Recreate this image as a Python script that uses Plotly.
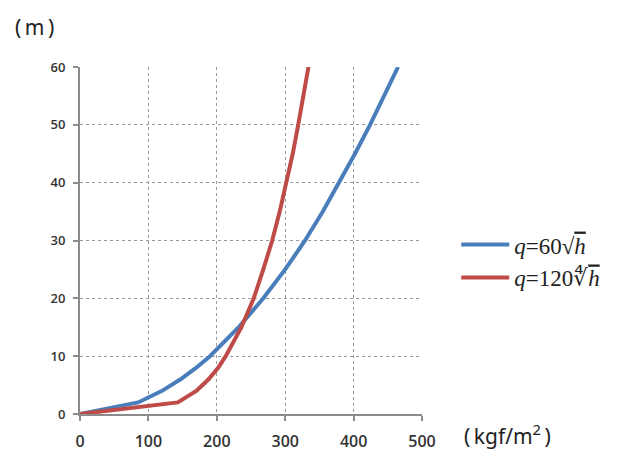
import plotly.graph_objects as go

# Load q (kgf/m2) at height h (m)
heights = [0, 2, 4, 6, 8, 10, 15, 20, 25, 30, 35, 40, 45, 50, 55, 60]
q_sqrt = [0, 85, 120, 147, 170, 190, 232, 268, 300, 329, 355, 379, 402, 424, 445, 465]
q_root4 = [0, 143, 170, 188, 202, 213, 236, 254, 268, 281, 292, 302, 311, 319, 327, 334]

x_ticks = [0, 100, 200, 300, 400, 500]
y_ticks = [0, 10, 20, 30, 40, 50, 60]

name_blue = "<i>q</i>=60√<span style='text-decoration:overline'><i>h</i></span>"
name_red = "<i>q</i>=120∜<span style='text-decoration:overline'><i>h</i></span>"

fig = go.Figure()
fig.add_trace(go.Scatter(x=q_sqrt, y=heights, mode="lines", name=name_blue,
                         line=dict(color="#4a7ebb", width=4)))
fig.add_trace(go.Scatter(x=q_root4, y=heights, mode="lines", name=name_red,
                         line=dict(color="#be4b48", width=4)))

axis_common = dict(
    showgrid=True, gridcolor="#9a9a9a", griddash="dot", gridwidth=1,
    showline=True, linecolor="#8c8c8c", linewidth=2,
    ticks="outside", ticklen=5, tickcolor="#8c8c8c", tickwidth=2,
    zeroline=False, automargin=False,
)

fig.update_xaxes(range=[0, 500], tickvals=x_ticks, ticklabelstandoff=7,
                 tickfont=dict(family="Open Sans", size=16, color="#333333", weight=600),
                 **axis_common)
fig.update_yaxes(range=[0, 60], tickvals=y_ticks, ticklabelstandoff=5,
                 tickfont=dict(family="Open Sans", size=13, color="#333333", weight=600),
                 **axis_common)

# the page body has an 8px default margin, so margins are reduced by 8px
fig.update_layout(
    width=631, height=452,
    margin=dict(l=72, r=217, t=59, b=46),
    paper_bgcolor="white", plot_bgcolor="white",
    showlegend=True,
    legend=dict(x=1.1, y=0.55, xanchor="left", yanchor="top",
                font=dict(family="Liberation Serif", size=23, color="#222222"),
                bgcolor="rgba(0,0,0,0)", itemwidth=48, tracegroupgap=0),
    annotations=[
        dict(text="(\u2009m\u2009)", xref="paper", yref="paper", x=-0.196, y=1.115,
             xanchor="left", yanchor="middle", showarrow=False,
             font=dict(family="Noto Sans", size=21, color="#222222")),
        dict(text="(\u2009kgf/m<sup>2</sup>\u2009)", xref="paper", yref="paper", x=1.117, y=-0.06,
             xanchor="left", yanchor="middle", showarrow=False,
             font=dict(family="Noto Sans", size=21, color="#222222")),
    ],
)

fig.write_html("out.html")
